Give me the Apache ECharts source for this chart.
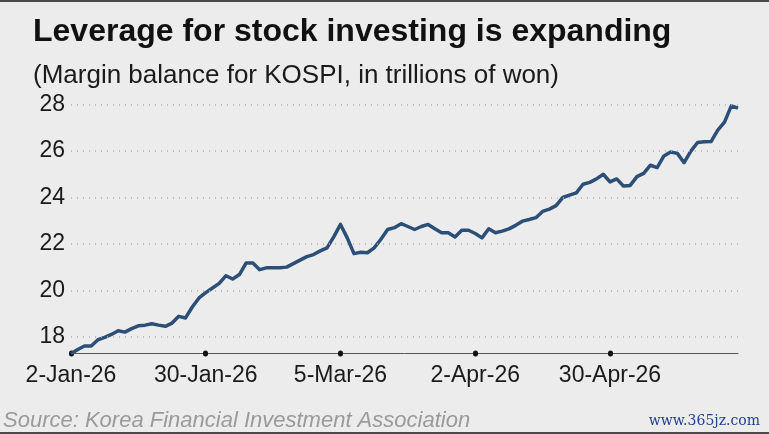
<!DOCTYPE html>
<html>
<head>
<meta charset="utf-8">
<script src="https://cdn.jsdelivr.net/npm/echarts@6/dist/echarts.min.js"></script>
<style>
  html, body { margin: 0; padding: 0; background: #ececec; }
  #chart { width: 769px; height: 434px; }
</style>
</head>
<body>
<div id="chart"></div>
<script>
// trading days, 2-Jan-26 .. late May 2026 (one value per session)
var tickLabels = ['2-Jan-26', '30-Jan-26', '5-Mar-26', '2-Apr-26', '30-Apr-26'];
var tickEvery = 20;

// margin balance, trillions of won
var balance = [
  17.27, 17.45, 17.6, 17.6, 17.87, 17.97, 18.1, 18.26, 18.2, 18.35,
  18.47, 18.5, 18.56, 18.5, 18.45, 18.59, 18.88, 18.81, 19.28, 19.67,
  19.9, 20.1, 20.3, 20.63, 20.49, 20.68, 21.18, 21.18, 20.89, 20.97,
  20.97, 20.97, 21.0, 21.15, 21.3, 21.45, 21.54, 21.7, 21.83, 22.3,
  22.84, 22.26, 21.58, 21.64, 21.62, 21.83, 22.2, 22.62, 22.7, 22.87,
  22.75, 22.62, 22.75, 22.84, 22.65, 22.48, 22.48, 22.3, 22.59, 22.59,
  22.45, 22.26, 22.65, 22.48, 22.55, 22.65, 22.8, 22.98, 23.05, 23.13,
  23.4, 23.5, 23.65, 24.0, 24.1, 24.2, 24.57, 24.65, 24.8, 25.0,
  24.67, 24.8, 24.49, 24.52, 24.9, 25.04, 25.39, 25.29, 25.79, 25.96,
  25.9, 25.5, 26.0, 26.37, 26.4, 26.41, 26.9, 27.25, 27.95, 27.85
];
var yTicks = [18, 20, 22, 24, 26, 28];

var days = balance.map(function (v, i) { return i; });

var font = 'Liberation Sans, Arial, sans-serif';
var chart = echarts.init(document.getElementById('chart'));

chart.setOption({
  backgroundColor: '#ececec',
  animation: false,
  title: [{
    text: 'Leverage for stock investing is expanding',
    left: 28, top: 11,
    textStyle: { fontFamily: font, fontSize: 32, fontWeight: 'bold', color: '#111' }
  }, {
    text: '(Margin balance for KOSPI, in trillions of won)',
    left: 28, top: 58,
    textStyle: { fontFamily: font, fontSize: 26, fontWeight: 'normal', color: '#1a1a1a' }
  }, {
    text: 'Source: Korea Financial Investment Association',
    left: -2, top: 405,
    textStyle: { fontFamily: font, fontSize: 22, fontStyle: 'italic', fontWeight: 'normal', color: '#9a9a9a' }
  }, {
    text: 'www.365jz.com',
    right: 4, top: 409,
    textStyle: { fontFamily: 'DejaVu Serif, serif', fontSize: 14, fontWeight: 'normal', color: '#1f3f8f' }
  }],
  graphic: [
    { type: 'rect', left: 0, top: 0, shape: { width: 769, height: 2 }, style: { fill: '#4a4a4a' } },
    { type: 'rect', left: 0, bottom: 0, shape: { width: 769, height: 2 }, style: { fill: '#4a4a4a' } }
  ],
  grid: { left: 71, right: 31, top: 100, bottom: 81 },
  xAxis: {
    type: 'category',
    data: days,
    boundaryGap: false,
    axisLine: { lineStyle: { color: '#555', width: 1 } },
    axisTick: {
      interval: tickEvery - 1,
      alignWithLabel: true,
      length: 1,
      lineStyle: { color: '#111', width: 5, cap: 'round' }
    },
    axisLabel: {
      interval: tickEvery - 1,
      margin: 11,
      fontFamily: font,
      fontSize: 23,
      color: '#1a1a1a',
      formatter: function (v, i) { return tickLabels[i / tickEvery] || ''; }
    },
    splitLine: { show: false }
  },
  yAxis: {
    type: 'value',
    min: 17.3,
    max: 28.2,
    axisLine: { show: false },
    axisTick: { show: false },
    splitLine: { show: false },
    axisLabel: {
      customValues: yTicks,
      margin: 6,
      fontFamily: font,
      fontSize: 23,
      color: '#1a1a1a'
    }
  },
  series: [{
    type: 'line',
    data: balance,
    symbol: 'none',
    lineStyle: { color: '#2c4f78', width: 3.5, join: 'round' },
    markLine: {
      silent: true,
      symbol: 'none',
      label: { show: false },
      lineStyle: { color: '#b0b0b0', type: [1, 5], width: 1.5 },
      data: yTicks.map(function (t) { return { yAxis: t }; })
    },
    z: 3
  }]
});
</script>
</body>
</html>
